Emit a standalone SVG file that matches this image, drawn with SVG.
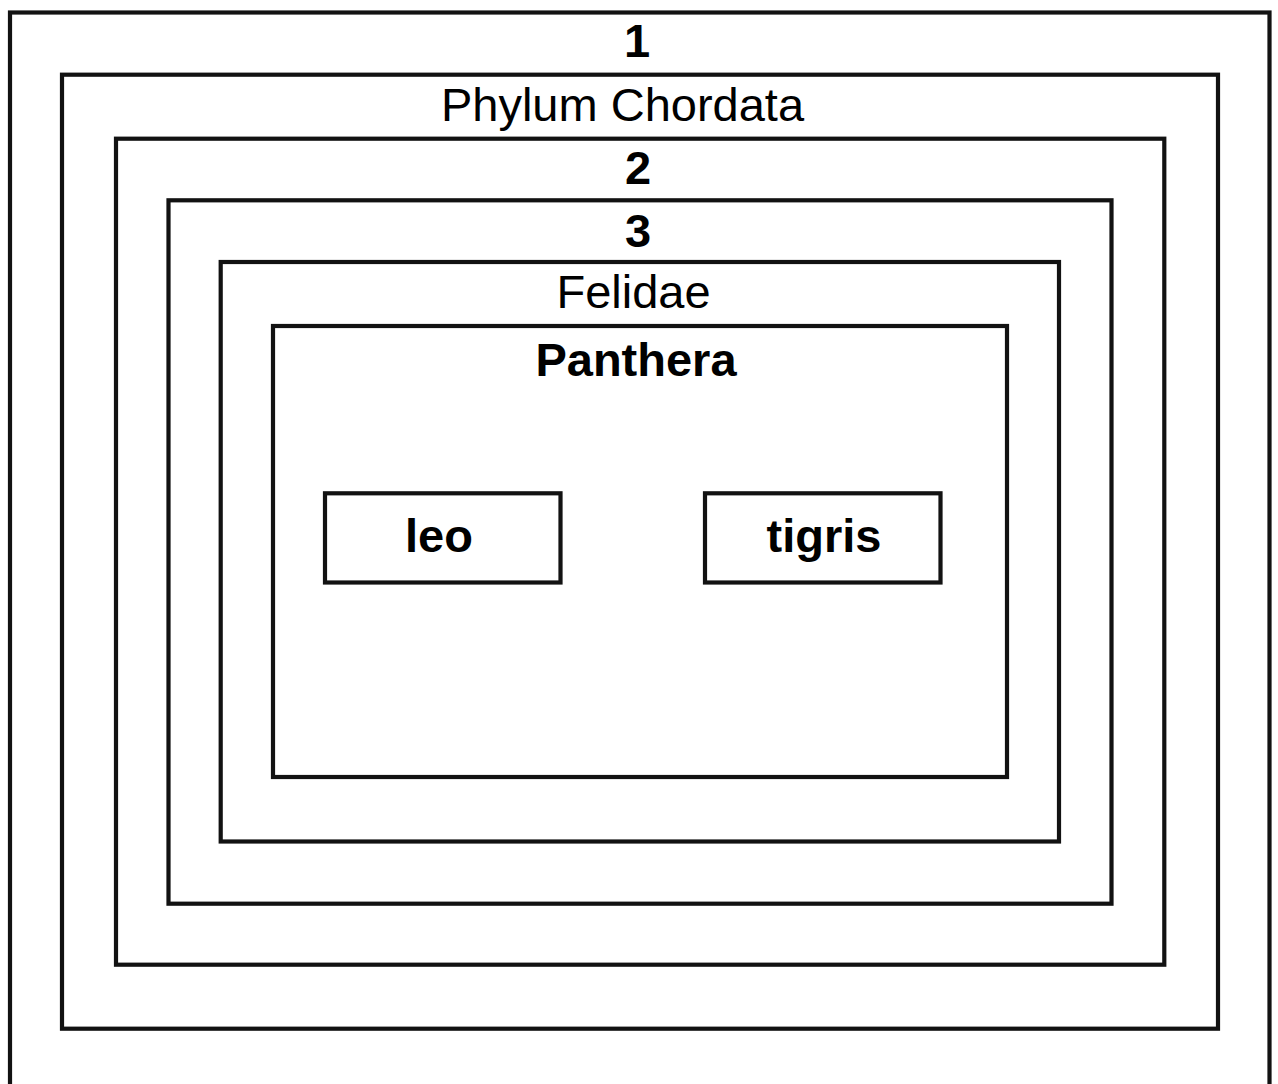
<svg xmlns="http://www.w3.org/2000/svg" width="1278" height="1084" viewBox="0 0 1278 1084">
<style>
.box{fill:none;stroke:#121212;stroke-width:4.2}
.leaf{fill:#fff;stroke:#121212;stroke-width:4.2}
.t{font-family:"Liberation Sans",Arial,sans-serif;font-size:47px;fill:#000;text-anchor:middle}
.b{font-weight:bold}
</style>
<rect width="1278" height="1084" fill="#fff"/>
<g id="node-1">
<rect class="box" x="10" y="12.5" width="1259.5" height="1100"/>
<text class="t b" x="637" y="57">1</text>
</g>
<g id="node-chordata">
<rect class="box" x="62" y="74.7" width="1156" height="954"/>
<text class="t" x="622.5" y="121">Phylum Chordata</text>
</g>
<g id="node-2">
<rect class="box" x="116" y="138.7" width="1048.3" height="826"/>
<text class="t b" x="638" y="184">2</text>
</g>
<g id="node-3">
<rect class="box" x="168.5" y="200.3" width="943" height="703.4"/>
<text class="t b" x="638" y="247">3</text>
</g>
<g id="node-felidae">
<rect class="box" x="220.7" y="262" width="838.3" height="579.5"/>
<text class="t" x="633.5" y="308">Felidae</text>
</g>
<g id="node-panthera">
<rect class="box" x="273" y="326" width="734" height="451"/>
<text class="t b" x="636" y="376">Panthera</text>
</g>
<g id="node-leo">
<rect class="leaf" x="325" y="493.3" width="235.5" height="89.2"/>
<text class="t b" x="439" y="552">leo</text>
</g>
<g id="node-tigris">
<rect class="leaf" x="705" y="493.3" width="235.5" height="89.2"/>
<text class="t b" x="824" y="552">tigris</text>
</g>
<g id="connectors"></g>
</svg>
